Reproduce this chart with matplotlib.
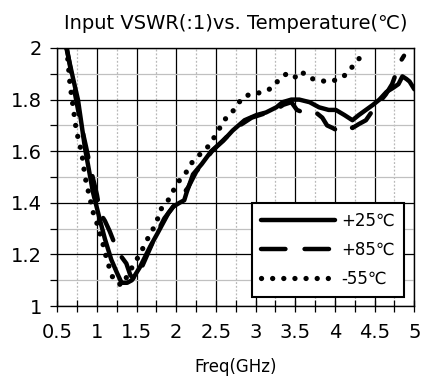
import matplotlib.pyplot as plt
from matplotlib.ticker import MultipleLocator, FuncFormatter

plt.rcParams['font.family'] = ['DejaVu Sans']

# +25℃ (solid)
f25 = [0.60, 0.65, 0.70, 0.76, 0.85, 0.95, 1.04, 1.10, 1.18, 1.25, 1.31, 1.38, 1.44,
       1.54, 1.67, 1.76, 1.83, 1.90, 1.96, 2.04, 2.10, 2.13, 2.21, 2.32, 2.44, 2.59,
       2.71, 2.86, 3.01, 3.13, 3.26, 3.34, 3.45, 3.55, 3.68, 3.80, 3.92, 4.01, 4.12,
       4.22, 4.30, 4.39, 4.48, 4.56, 4.65, 4.73, 4.80, 4.85, 4.90, 4.94, 5.00]
v25 = [2.02, 1.95, 1.88, 1.80, 1.61, 1.44, 1.33, 1.26, 1.18, 1.13, 1.09, 1.09, 1.10,
       1.15, 1.23, 1.28, 1.32, 1.36, 1.385, 1.40, 1.41, 1.44, 1.51, 1.55, 1.60, 1.64,
       1.68, 1.72, 1.74, 1.75, 1.77, 1.79, 1.80, 1.80, 1.79, 1.77, 1.76, 1.76, 1.74,
       1.72, 1.74, 1.76, 1.78, 1.80, 1.83, 1.845, 1.86, 1.89, 1.88, 1.87, 1.84]

# +85℃ (dashed)
f85 = [0.62, 0.70, 0.78, 0.86, 0.93, 1.00, 1.04, 1.10, 1.16, 1.25, 1.31, 1.37, 1.42,
       1.48, 1.55, 1.65, 1.75, 1.85, 1.95, 2.05, 2.15, 2.25, 2.35, 2.45, 2.55, 2.65,
       2.75, 2.85, 2.95, 3.05, 3.15, 3.25, 3.35, 3.45, 3.52, 3.60, 3.68, 3.76, 3.84,
       3.90, 3.97, 4.03, 4.10, 4.16, 4.22, 4.30, 4.39, 4.48, 4.56, 4.64, 4.72, 4.78,
       4.83, 4.87]
v85 = [2.00, 1.86, 1.73, 1.62, 1.52, 1.43, 1.36, 1.33, 1.29, 1.22, 1.19, 1.165, 1.12,
       1.10, 1.14, 1.21, 1.28, 1.34, 1.38, 1.42, 1.46, 1.52, 1.56, 1.60, 1.63, 1.66,
       1.69, 1.71, 1.73, 1.74, 1.75, 1.76, 1.78, 1.79, 1.76, 1.75, 1.74, 1.75, 1.73,
       1.70, 1.69, 1.68, 1.69, 1.70, 1.69, 1.705, 1.72, 1.76, 1.79, 1.82, 1.86, 1.91,
       1.95, 1.97]

# -55℃ (dotted)
f55 = [0.62, 0.66, 0.70, 0.74, 0.81, 0.85, 0.95, 1.00, 1.08, 1.12, 1.16, 1.21, 1.31,
       1.39, 1.46, 1.54, 1.67, 1.75, 1.79, 1.88, 1.95, 2.02, 2.11, 2.18, 2.27, 2.38,
       2.45, 2.53, 2.60, 2.69, 2.77, 2.84, 2.93, 3.03, 3.13, 3.21, 3.30, 3.39, 3.49,
       3.57, 3.67, 3.78, 3.90, 4.00, 4.11, 4.20, 4.29, 4.38]
v55 = [2.00, 1.86, 1.77, 1.68, 1.59, 1.50, 1.365, 1.32, 1.235, 1.185, 1.145, 1.10, 1.08,
       1.12, 1.16, 1.20, 1.28, 1.32, 1.37, 1.40, 1.44, 1.48, 1.51, 1.55, 1.58, 1.61,
       1.64, 1.68, 1.72, 1.745, 1.78, 1.81, 1.82, 1.825, 1.835, 1.845, 1.88, 1.90, 1.885,
       1.91, 1.885, 1.875, 1.87, 1.875, 1.89, 1.92, 1.955, 1.98]

fig = plt.figure(figsize=(4.22, 3.83), dpi=100)
ax = fig.add_axes([0.1358, 0.201, 0.846, 0.6737])

ax.set_xlim(0.5, 5)
ax.set_ylim(1, 2)
ax.xaxis.set_major_locator(MultipleLocator(0.5))
ax.xaxis.set_minor_locator(MultipleLocator(0.25))
ax.yaxis.set_major_locator(MultipleLocator(0.2))
ax.yaxis.set_minor_locator(MultipleLocator(0.1))
fmt = FuncFormatter(lambda v, p: f"{v:g}")
ax.xaxis.set_major_formatter(fmt)
ax.yaxis.set_major_formatter(fmt)

ax.grid(which='major', axis='both', color='black', lw=0.9)
ax.grid(which='minor', axis='x', color='#b8b8b8', lw=0.9, ls=(0, (1.5, 1.5)))
ax.grid(which='minor', axis='y', color='#c0c0c0', lw=0.9)
ax.set_axisbelow(True)

ax.tick_params(which='both', direction='out', length=5, width=0.9, labelsize=14)
ax.tick_params(axis='x', which='both', direction='inout', length=9, pad=8)
ax.tick_params(axis='y', which='both', pad=6)
for s in ax.spines.values():
    s.set_linewidth(1.0)

ax.plot(f25, v25, color='black', lw=3.2, solid_capstyle='round', label='+25℃')
ax.plot(f85, v85, color='black', lw=3.2, ls=(0, (5.5, 4.3)), dash_capstyle='round',
        label='+85℃')
ax.plot(f55, v55, color='black', lw=3.8, ls=(0, (0.01, 2.1)), dash_capstyle='round',
        label='-55℃')

ax.set_title('Input VSWR(:1)vs. Temperature(℃)', fontsize=14, pad=14)
ax.set_xlabel('Freq(GHz)', fontsize=12, labelpad=11)

leg = ax.legend(loc='lower right', bbox_to_anchor=(0.971, 0.035), borderaxespad=0,
                fontsize=12, handlelength=4.4, handletextpad=0.4, labelspacing=0.65,
                borderpad=0.55, fancybox=False, framealpha=1, edgecolor='black')
leg.get_frame().set_linewidth(1.5)

fig.savefig('out.png', dpi=100)
